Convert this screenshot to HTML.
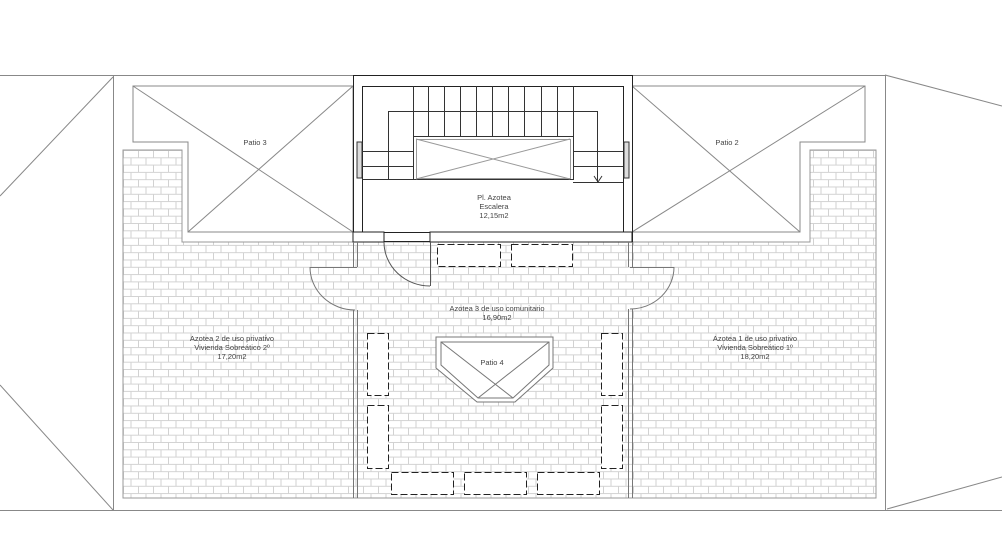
<!DOCTYPE html>
<html><head><meta charset="utf-8"><style>
html,body{margin:0;padding:0;background:#fff;}
svg{display:block}
text{font-family:"Liberation Sans",sans-serif;font-size:7.5px;fill:#444;text-anchor:middle}
</style></head><body>
<svg width="1002" height="558" viewBox="0 0 1002 558" xmlns="http://www.w3.org/2000/svg">
<defs>
<pattern id="brick" width="30" height="14.6" patternUnits="userSpaceOnUse" x="123" y="150">
<rect width="30" height="14.6" fill="#fff"/>
<path d="M0 0.5H30M0 7.8H30M0.5 0V7.3M15.5 0V7.3M8 7.3V14.6M23 7.3V14.6" stroke="#d2d2d2" stroke-width="1" fill="none"/>
</pattern>
</defs>
<!-- outer site lines -->
<g stroke="#888" stroke-width="1" fill="none">
<line x1="0" y1="75.5" x2="885" y2="75.5"/>
<line x1="0" y1="510.5" x2="1002" y2="510.5"/>
<line x1="113.5" y1="75" x2="113.5" y2="510"/>
<line x1="885.5" y1="75" x2="885.5" y2="510"/>
<line x1="113" y1="77" x2="0" y2="196"/>
<line x1="0" y1="385" x2="113" y2="510"/>
<line x1="885" y1="75" x2="1002" y2="106"/>
<line x1="887" y1="509" x2="1002" y2="477"/>
</g>
<!-- brick area -->
<polygon points="123,150 182,150 182,242 810,242 810,150 876,150 876,498 123,498" fill="url(#brick)" stroke="#999" stroke-width="1"/>
<!-- patios -->
<g stroke="#888" stroke-width="1" fill="#fff">
<polygon points="133,86 353,86 353,232 188,232 188,142 133,142"/>
<line x1="133" y1="86" x2="353" y2="232"/>
<line x1="353" y1="86" x2="188" y2="232"/>
<polygon points="632,86 865,86 865,142 800,142 800,232 632,232"/>
<line x1="632" y1="86" x2="800" y2="232"/>
<line x1="865" y1="86" x2="632" y2="232"/>
</g>
<!-- stair block -->
<g stroke="#222" stroke-width="1" fill="none">
<rect x="353.5" y="75.5" width="279" height="166" fill="#fff"/>
<rect x="362.5" y="86.5" width="261" height="146"/>
<line x1="384" y1="241.5" x2="353" y2="241.5" stroke="#fff" stroke-width="2"/>
</g>
<g stroke="#333" stroke-width="1" fill="none">
<path d="M413.5 86V136M428.5 86V136M444.5 86V136M460.5 86V136M476.5 86V136M492.5 86V136M508.5 86V136M524.5 86V136M541.5 86V136M557.5 86V136M573.5 86V136"/>
<path d="M388 111.5H598M388.5 111V179M597.5 111V182M413 136.5H573"/>
<path d="M362 151.5H413M362 166.5H413M573 151.5H623M573 166.5H623M573 182.5H623M362 179.5H573"/>
<rect x="413.5" y="136.5" width="160" height="43"/>
<path d="M594 176L598 182L602 176"/>
<!-- window rects -->
<rect x="357" y="142" width="5" height="36" fill="#ddd"/>
<rect x="624" y="142" width="5" height="36" fill="#ddd"/>
</g>
<g stroke="#999" fill="none" stroke-width="1">
<rect x="416.5" y="139.5" width="154" height="39"/>
<line x1="416" y1="139" x2="570" y2="179"/>
<line x1="570" y1="139" x2="416" y2="179"/>
</g>
<!-- stair bottom wall with door opening -->
<rect x="353" y="232" width="31" height="10" fill="#fff" stroke="#222"/>
<rect x="430" y="232" width="202" height="10" fill="#fff" stroke="#222"/>
<g stroke="#555" fill="none" stroke-width="1">
<line x1="430.5" y1="242" x2="430.5" y2="286"/>
<path d="M384 242 A46 44 0 0 0 430 286"/>
</g>
<!-- walls of central area -->
<g stroke="#777" fill="none" stroke-width="1">
<path d="M353.5 242V267M357.5 242V267M353.5 310V498M357.5 310V498"/>
<path d="M628.5 242V267M632.5 242V267M628.5 309V498M632.5 309V498"/>
<path d="M310 267.5H357M630 267.5H674"/>
<path d="M310 267 A45 43 0 0 0 355 310"/>
<path d="M674 267 A44 42 0 0 1 630 309"/>
</g>
<!-- dashed benches -->
<g stroke="#222" fill="#fff" stroke-width="1" stroke-dasharray="7,3">
<rect x="437.5" y="244.5" width="63" height="22"/>
<rect x="511.5" y="244.5" width="61" height="22"/>
<rect x="367.5" y="333.5" width="21" height="62"/>
<rect x="367.5" y="405.5" width="21" height="63"/>
<rect x="601.5" y="333.5" width="21" height="62"/>
<rect x="601.5" y="405.5" width="21" height="63"/>
<rect x="391.5" y="472.5" width="62" height="22"/>
<rect x="464.5" y="472.5" width="62" height="22"/>
<rect x="537.5" y="472.5" width="62" height="22"/>
</g>
<!-- patio 4 -->
<g stroke="#777" fill="#fff" stroke-width="1">
<polygon points="436,337 553,337 553,368 515,402 477,402 436,368"/>
<polygon points="441,342 549,342 549,365 513,398 478,398 441,365"/>
<line x1="441" y1="342" x2="513" y2="398"/>
<line x1="549" y1="342" x2="478" y2="398"/>
</g>
<!-- labels -->
<text x="255" y="145">Patio 3</text>
<text x="727" y="145">Patio 2</text>
<text x="494" y="200">Pl. Azotea</text>
<text x="494" y="209">Escalera</text>
<text x="494" y="218">12,15m2</text>
<text x="497" y="311">Azotea 3 de uso comunitario</text>
<text x="497" y="320">16,90m2</text>
<text x="492" y="365">Patio 4</text>
<text x="232" y="341">Azotea 2 de uso privativo</text>
<text x="232" y="350">Vivienda Sobreático 2º</text>
<text x="232" y="359">17,20m2</text>
<text x="755" y="341">Azotea 1 de uso privativo</text>
<text x="755" y="350">Vivienda Sobreático 1º</text>
<text x="755" y="359">18,20m2</text>
</svg>
</body></html>
